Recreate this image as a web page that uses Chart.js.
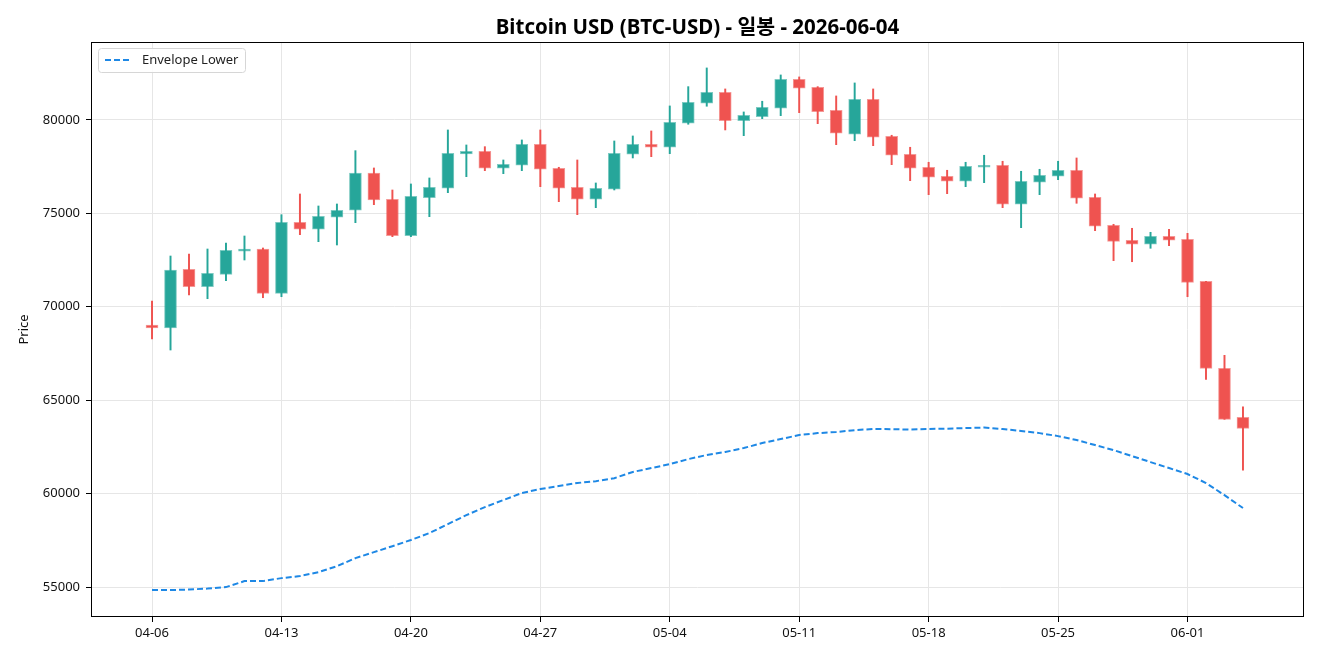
<!DOCTYPE html>
<html>
<head>
<meta charset="utf-8">
<script src="https://cdn.jsdelivr.net/npm/chart.js@4/dist/chart.umd.min.js"></script>
<style>
  html, body { margin: 0; padding: 0; background: #fff; }
  #wrap { width: 1320px; height: 660px; }
</style>
</head>
<body>
<div id="wrap"><canvas id="c"></canvas></div>
<script>
// 일봉 데이터 (읽은 값)
var dates = ['04-06','04-07','04-08','04-09','04-10','04-11','04-12','04-13','04-14','04-15',
  '04-16','04-17','04-18','04-19','04-20','04-21','04-22','04-23','04-24','04-25',
  '04-26','04-27','04-28','04-29','04-30','05-01','05-02','05-03','05-04','05-05',
  '05-06','05-07','05-08','05-09','05-10','05-11','05-12','05-13','05-14','05-15',
  '05-16','05-17','05-18','05-19','05-20','05-21','05-22','05-23','05-24','05-25',
  '05-26','05-27','05-28','05-29','05-30','05-31','06-01','06-02','06-03','06-04'];

var opens = [69025,68864,72007,71075,71739,72970,73093,70722,74522,74148,
  74790,75165,77161,75753,73805,75839,76342,78178,78323,77413,
  77574,78698,77413,76396,75753,76289,78163,78698,78537,79822,
  80893,81481,79961,80175,80625,82177,81749,80518,79233,81106,
  79126,78163,77466,76985,76717,77466,77574,75486,76664,76985,
  77306,75861,74362,73559,73345,73773,73612,71364,66707,64084];

var highs = [70310,72718,72825,73093,73414,73789,73147,74929,76037,75395,
  75502,78355,77429,76251,76573,76894,79463,78660,78569,77857,
  78928,79463,77466,77857,76626,78874,79142,79410,80748,81781,
  82782,81658,80427,81000,82407,82300,81781,81283,81979,81658,
  79180,78537,77734,77306,77734,78109,77788,77252,77359,77788,
  77964,76037,74415,74201,73987,74148,73933,71364,67403,64651];

var lows = [68275,67687,70631,70433,71396,72504,70486,70540,73858,73484,
  73307,74501,75464,73751,73751,74822,76107,76963,77285,77124,
  77285,76428,75626,74929,75304,76251,77964,78034,78195,79768,
  80732,79463,79158,80068,80229,80389,79801,78676,78891,78623,
  77606,76749,76000,76053,76428,76642,75304,74233,76000,76803,
  75539,74073,72467,72413,73131,73270,70540,66118,63977,61263];

var closes = [68864,71969,71075,71792,73024,73093,70722,74522,74148,74843,
  75165,77161,75716,73805,75914,76396,78216,78323,77413,77627,
  78698,77360,76342,75753,76342,78216,78698,78537,79875,80946,
  81481,79961,80250,80678,82177,81696,80443,79287,81106,79073,
  78109,77413,76931,76717,77520,77574,75486,76717,77038,77306,
  75807,74308,73505,73345,73773,73559,71311,66707,63977,63495];

var envLower = [54840,54840,54870,54920,55000,55320,55320,55480,55590,55800,
  56120,56550,56870,57190,57520,57890,58370,58850,59280,59660,
  60030,60250,60410,60570,60670,60830,61160,61370,61580,61850,
  62070,62230,62440,62710,62920,63140,63240,63300,63400,63460,
  63450,63430,63460,63480,63510,63540,63460,63350,63240,63080,
  62870,62600,62330,62010,61690,61370,61050,60570,59920,59230];

var xTickIdx = [0, 7, 14, 21, 28, 35, 42, 49, 56];
var yTicks = [55000, 60000, 65000, 70000, 75000, 80000];

var UP = '#26a69a', DOWN = '#ef5350';
var font = "'Noto Sans', 'Noto Sans CJK KR', sans-serif";

var wicks = dates.map((d, i) => ({ x: i, y: [lows[i], highs[i]] }));
var bodies = dates.map((d, i) => ({ x: i, y: [opens[i], closes[i]] }));
var colors = dates.map((d, i) => closes[i] >= opens[i] ? UP : DOWN);
var edge = dates.map((d, i) => closes[i] >= opens[i] ? 'rgba(38,166,154,0.6)' : 'rgba(239,83,80,0.6)');
var env = dates.map((d, i) => ({ x: i, y: envLower[i] }));

// 테두리 + 범례
var framePlugin = {
  id: 'frame',
  afterDraw(chart) {
    var ctx = chart.ctx, a = chart.chartArea;
    ctx.save();
    ctx.strokeStyle = '#000';
    ctx.lineWidth = 1;
    ctx.strokeRect(Math.round(a.left) + 0.5, Math.round(a.top) + 0.5,
      Math.round(a.right - a.left) - 1, Math.round(a.bottom - a.top) - 1);

    var bx = a.left + 7, by = a.top + 6, bw = 147, bh = 24;
    ctx.beginPath();
    ctx.roundRect(bx + 0.5, by + 0.5, bw, bh, 3);
    ctx.fillStyle = 'rgba(255,255,255,0.85)';
    ctx.fill();
    ctx.strokeStyle = '#d6d6d6';
    ctx.stroke();

    ctx.beginPath();
    ctx.setLineDash([6, 3]);
    ctx.strokeStyle = '#1e88e5';
    ctx.lineWidth = 2;
    ctx.moveTo(bx + 7, by + 12);
    ctx.lineTo(bx + 34, by + 12);
    ctx.stroke();
    ctx.setLineDash([]);

    ctx.fillStyle = '#222';
    ctx.font = '13px ' + font;
    ctx.textBaseline = 'middle';
    ctx.fillText('Envelope Lower', bx + 44, by + 12.5);
    ctx.restore();
  }
};

new Chart(document.getElementById('c'), {
  type: 'bar',
  data: {
    datasets: [
      { type: 'line', label: 'Envelope Lower', data: env, borderColor: '#1e88e5',
        borderWidth: 2, borderDash: [6, 3], pointRadius: 0, tension: 0, fill: false, order: 1 },
      { label: 'body', data: bodies, backgroundColor: colors, borderColor: edge, borderWidth: 1,
        borderSkipped: false, barThickness: 12, grouped: false, order: 2 },
      { label: 'wick', data: wicks, backgroundColor: colors, borderWidth: 0,
        barThickness: 1.3, grouped: false, order: 3 }
    ]
  },
  options: {
    responsive: true,
    maintainAspectRatio: false,
    animation: false,
    layout: { padding: { left: 0, right: 16, top: 0, bottom: 0 } },
    plugins: {
      legend: { display: false },
      tooltip: { enabled: false },
      title: {
        display: true, fullSize: false,
        text: 'Bitcoin USD (BTC-USD) - 일봉 - 2026-06-04',
        color: '#000',
        font: { family: font, size: 20.5, weight: 'bold' },
        padding: { top: 15.5, bottom: 1.9 }
      }
    },
    scales: {
      x: {
        type: 'linear', min: -3.3, max: 62.3, offset: false,
        afterBuildTicks: s => { s.ticks = xTickIdx.map(v => ({ value: v })); },
        afterFit: s => { s.height = 43; },
        ticks: { callback: v => dates[v], color: '#111', font: { family: font, size: 13 }, padding: 3, maxRotation: 0 },
        grid: { offset: false, color: '#e6e6e6', tickColor: '#000', tickLength: 5 },
        border: { display: false }
      },
      y: {
        min: 53400, max: 84170,
        afterBuildTicks: s => { s.ticks = yTicks.map(v => ({ value: v })); },
        afterFit: s => { s.width = 91; },
        ticks: { callback: v => String(v), color: '#111', font: { family: font, size: 13 }, padding: 6 },
        grid: { color: '#e6e6e6', tickColor: '#000', tickLength: 5 },
        border: { display: false },
        title: { display: true, text: 'Price', color: '#111', font: { family: font, size: 13 }, padding: { top: 16, bottom: 0 } }
      }
    }
  },
  plugins: [framePlugin]
});
</script>
</body>
</html>
